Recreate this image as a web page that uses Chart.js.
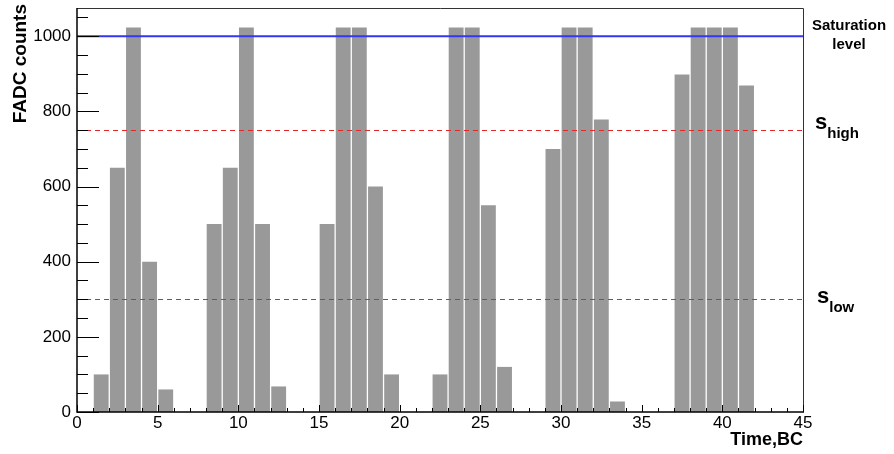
<!DOCTYPE html>
<html>
<head>
<meta charset="utf-8">
<script src="https://cdn.jsdelivr.net/npm/chart.js@4"></script>
<style>
  body { margin: 0; background: #fff; }
  canvas { display: block; }
</style>
</head>
<body>
<canvas id="fadc" width="894" height="454"></canvas>
<script>
// bins (time, BC) with non-zero content and their FADC counts
const bins = [1, 2, 3, 4, 5, 8, 9, 10, 11, 12, 15, 16, 17, 18, 19, 22, 23, 24, 25, 26, 29, 30, 31, 32, 33, 37, 38, 39, 40, 41];
const counts = [100, 650, 1023, 400, 60, 500, 650, 1023, 500, 68, 500, 1023, 1023, 600, 100, 100, 1023, 1023, 550, 120, 700, 1023, 1023, 778, 28, 898, 1023, 1023, 1023, 869];

// reference levels
const saturationLevel = 1000;
const sHigh = 750;
const sLow = 300;

// axis ranges / ticks
const xMin = 0, xMax = 45, xMajorStep = 5, xMinorStep = 1;
const yMin = 0, yMax = 1075, yMajorStep = 200, yMinorStep = 50;

const FONT = "'Liberation Sans', Arial, Helvetica, sans-serif";

const barData = bins.map((b, i) => ({ x: b + 0.5, y: counts[i] }));

// lignes de niveau, cadre, ticks internes et textes style ROOT
const rootStyle = {
  id: 'rootStyle',
  afterDatasetsDraw(chart) {
    const { ctx, chartArea: a, scales: { x, y } } = chart;
    ctx.save();

    // saturation (bleu)
    const ys = y.getPixelForValue(saturationLevel);
    ctx.strokeStyle = '#3535f5';
    ctx.lineWidth = 2;
    ctx.beginPath();
    ctx.moveTo(a.left, ys);
    ctx.lineTo(a.right, ys);
    ctx.stroke();

    // seuils (rouge pointillé)
    ctx.strokeStyle = '#e02828';
    ctx.lineWidth = 1.2;
    ctx.setLineDash([5, 4]);
    [sHigh, sLow].forEach(v => {
      const py = Math.round(y.getPixelForValue(v)) + 0.5;
      ctx.beginPath();
      ctx.moveTo(a.left, py);
      ctx.lineTo(a.right, py);
      ctx.stroke();
    });
    ctx.setLineDash([]);

    // cadre
    ctx.strokeStyle = '#333';
    ctx.lineWidth = 1;
    ctx.beginPath();
    ctx.moveTo(a.left, a.top + 0.5);
    ctx.lineTo(a.right + 0.5, a.top + 0.5);
    ctx.lineTo(a.right + 0.5, a.bottom);
    ctx.stroke();
    ctx.strokeStyle = '#000';
    ctx.lineWidth = 1.5;
    ctx.beginPath();
    ctx.moveTo(a.left, a.top);
    ctx.lineTo(a.left, a.bottom);
    ctx.lineTo(a.right + 1, a.bottom);
    ctx.stroke();

    // ticks Y (vers l'intérieur)
    ctx.lineWidth = 1;
    ctx.strokeStyle = '#000';
    ctx.beginPath();
    for (let v = yMin; v <= yMax; v += yMinorStep) {
      const py = Math.round(y.getPixelForValue(v)) + 0.5;
      const len = v % yMajorStep === 0 ? 22 : 11;
      ctx.moveTo(a.left, py);
      ctx.lineTo(a.left + len, py);
    }
    // ticks X
    for (let v = xMin; v <= xMax; v += xMinorStep) {
      const px = Math.round(x.getPixelForValue(v)) + 0.5;
      const len = v % xMajorStep === 0 ? 7 : 4;
      ctx.moveTo(px, a.bottom);
      ctx.lineTo(px, a.bottom - len);
    }
    ctx.stroke();

    // titres des axes
    ctx.fillStyle = '#000';
    ctx.font = `bold 19px ${FONT}`;
    ctx.save();
    ctx.translate(21, 4);
    ctx.rotate(-Math.PI / 2);
    ctx.textAlign = 'right';
    ctx.textBaseline = 'middle';
    ctx.fillText('FADC counts', 0, 0);
    ctx.restore();

    ctx.font = `bold 18px ${FONT}`;
    ctx.textAlign = 'right';
    ctx.textBaseline = 'alphabetic';
    ctx.fillText('Time,BC', a.right, 445);

    // annotations à droite
    ctx.textAlign = 'center';
    ctx.textBaseline = 'middle';
    ctx.font = `bold 15px ${FONT}`;
    ctx.fillText('Saturation', 849, 26);
    ctx.fillText('level', 849, 45);

    function sub(main, low, xpos, base) {
      ctx.textAlign = 'left';
      ctx.textBaseline = 'alphabetic';
      ctx.font = `bold 22px ${FONT}`;
      ctx.fillText(main, xpos, base);
      const w = ctx.measureText(main).width;
      ctx.font = `bold 15px ${FONT}`;
      ctx.fillText(low, xpos + w, base + 9);
    }
    sub('s', 'high', 815, y.getPixelForValue(sHigh) - 1);
    sub('s', 'low', 817, y.getPixelForValue(sLow) + 4);

    ctx.restore();
  }
};

new Chart(document.getElementById('fadc'), {
  type: 'bar',
  data: {
    datasets: [{
      data: barData,
      backgroundColor: '#999999',
      borderWidth: 0,
      barPercentage: 0.92,
      categoryPercentage: 1.0
    }]
  },
  options: {
    responsive: false,
    animation: false,
    layout: { padding: { top: 8, right: 91, left: 0, bottom: 0 } },
    plugins: { legend: { display: false }, tooltip: { enabled: false } },
    scales: {
      x: {
        type: 'linear',
        min: xMin,
        max: xMax,
        offset: false,
        grid: { display: false, drawTicks: false },
        border: { display: false },
        ticks: {
          stepSize: xMajorStep,
          padding: 1,
          maxRotation: 0,
          color: '#000',
          font: { family: FONT, size: 17 }
        },
        afterFit(scale) {
          scale.height = 42;
          scale.paddingLeft = 0;
          scale.paddingRight = 0;
        }
      },
      y: {
        min: yMin,
        max: yMax,
        grid: { display: false, drawTicks: false },
        border: { display: false },
        ticks: {
          stepSize: yMajorStep,
          includeBounds: false,
          padding: 6,
          color: '#000',
          font: { family: FONT, size: 17 },
          callback: v => String(v)
        },
        afterFit(scale) {
          scale.width = 77;
          scale.paddingTop = 0;
          scale.paddingBottom = 0;
        }
      }
    }
  },
  plugins: [rootStyle]
});
</script>
</body>
</html>
